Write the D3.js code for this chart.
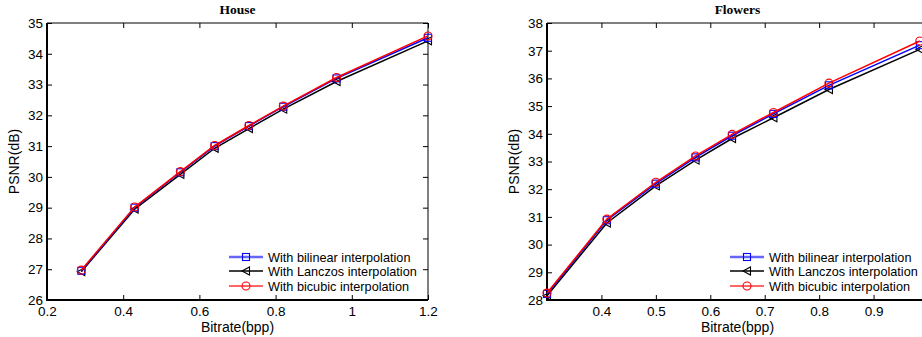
<!DOCTYPE html>
<html>
<head>
<meta charset="utf-8">
<script src="https://cdn.jsdelivr.net/npm/d3@7"></script>
<style>
  body { margin: 0; background: #fff; }
  svg { display: block; }
  .tick text { font-family: "Liberation Sans", Arial, sans-serif; font-size: 13.5px; fill: #000; }
  .tick line { stroke: #000; }
</style>
</head>
<body>
<svg id="chart" width="922" height="337"></svg>
<script>
// ---- data ----
const seriesNames = ['With bilinear interpolation', 'With Lanczos interpolation', 'With bicubic interpolation'];

const houseRate = [0.29, 0.43, 0.55, 0.64, 0.73, 0.82, 0.96, 1.2];
const houseBilinear = [26.95, 29.00, 30.15, 31.00, 31.65, 32.28, 33.20, 34.52];
const houseLanczos = [26.92, 28.95, 30.08, 30.93, 31.57, 32.20, 33.10, 34.42];
const houseBicubic = [26.97, 29.02, 30.17, 31.02, 31.67, 32.30, 33.23, 34.58];
const houseXTicks = [0.2, 0.4, 0.6, 0.8, 1, 1.2];
const houseYTicks = [26, 27, 28, 29, 30, 31, 32, 33, 34, 35];

const flowersRate = [0.3, 0.41, 0.5, 0.573, 0.64, 0.716, 0.818, 0.985];
const flowersBilinear = [28.22, 30.88, 32.20, 33.15, 33.93, 34.72, 35.75, 37.20];
const flowersLanczos = [28.15, 30.78, 32.12, 33.05, 33.83, 34.58, 35.60, 37.05];
const flowersBicubic = [28.25, 30.92, 32.25, 33.20, 33.98, 34.77, 35.83, 37.35];
const flowersXTicks = [0.4, 0.5, 0.6, 0.7, 0.8, 0.9];
const flowersYTicks = [28, 29, 30, 31, 32, 33, 34, 35, 36, 37, 38];

const styles = [
  { color: '#0000ff', marker: 'square', legendOpacity: 0.6, legendWidth: 2.5 },
  { color: '#000000', marker: 'triangle', legendOpacity: 1, legendWidth: 1.3 },
  { color: '#ff0000', marker: 'circle', legendOpacity: 0.8, legendWidth: 1.6 }
];

const svg = d3.select('#chart');
const font = '"Liberation Sans", Arial, sans-serif';

function drawMarker(g, type, cx, cy, color) {
  if (type === 'square') {
    g.append('rect').attr('x', cx - 3.5).attr('y', cy - 3.5).attr('width', 7).attr('height', 7)
      .attr('fill', 'none').attr('stroke', color).attr('stroke-width', 1.1);
  } else if (type === 'triangle') {
    g.append('path').attr('d', `M${cx - 4},${cy} L${cx + 3.5},${cy - 4} L${cx + 3.5},${cy + 4} Z`)
      .attr('fill', 'none').attr('stroke', color).attr('stroke-width', 1.1);
  } else {
    g.append('circle').attr('cx', cx).attr('cy', cy).attr('r', 4)
      .attr('fill', 'none').attr('stroke', color).attr('stroke-width', 1.1);
  }
}

function panel(opts) {
  const { left, top, width, height, xDomain, yDomain, xTicks, yTicks, rate, series, title, legendX } = opts;
  const x = d3.scaleLinear().domain(xDomain).range([left, left + width]);
  const y = d3.scaleLinear().domain(yDomain).range([top + height, top]);
  const g = svg.append('g');

  // axes, ticks pointing inward
  g.append('g').attr('transform', `translate(0,${top + height})`)
    .call(d3.axisBottom(x).tickValues(xTicks).tickSize(-5).tickPadding(6).tickFormat(d3.format('')))
    .call(a => a.select('.domain').remove());
  g.append('g').attr('transform', `translate(${left},0)`)
    .call(d3.axisLeft(y).tickValues(yTicks).tickSize(-5).tickPadding(4).tickFormat(d3.format('d')))
    .call(a => a.select('.domain').remove());
  g.append('g').attr('transform', `translate(0,${top})`)
    .call(d3.axisTop(x).tickValues(xTicks).tickSize(-5).tickFormat(''))
    .call(a => a.select('.domain').remove());
  g.append('g').attr('transform', `translate(${left + width},0)`)
    .call(d3.axisRight(y).tickValues(yTicks).tickSize(-5).tickFormat(''))
    .call(a => a.select('.domain').remove());

  // box
  g.append('line').attr('x1', left).attr('x2', left + width).attr('y1', top).attr('y2', top).attr('stroke', '#000');
  g.append('line').attr('x1', left + width).attr('x2', left + width).attr('y1', top).attr('y2', top + height).attr('stroke', '#000');
  g.append('line').attr('x1', left).attr('x2', left).attr('y1', top).attr('y2', top + height + 1).attr('stroke', '#000').attr('stroke-width', 2);
  g.append('line').attr('x1', left - 1).attr('x2', left + width).attr('y1', top + height).attr('y2', top + height).attr('stroke', '#000').attr('stroke-width', 2.2);

  // lines (drawn in order: lanczos, bilinear, bicubic on top)
  const order = [1, 0, 2];
  order.forEach(i => {
    const vals = series[i];
    const st = styles[i];
    const line = d3.line().x((d, j) => x(rate[j])).y(d => y(d));
    g.append('path').datum(vals).attr('d', line).attr('fill', 'none')
      .attr('stroke', st.color).attr('stroke-width', 1.5);
    vals.forEach((v, j) => drawMarker(g, st.marker, x(rate[j]), y(v), st.color));
  });

  // title and labels
  g.append('text').attr('x', left + width / 2).attr('y', 14).attr('text-anchor', 'middle')
    .attr('font-family', '"Liberation Serif", "Times New Roman", serif').attr('font-weight', 'bold')
    .attr('font-size', 13.5).text(title);
  g.append('text').attr('x', left + width / 2).attr('y', 332).attr('text-anchor', 'middle')
    .attr('font-family', font).attr('font-size', 14).text('Bitrate(bpp)');
  g.append('text').attr('transform', `translate(${left - 28},${top + height / 2}) rotate(-90)`)
    .attr('text-anchor', 'middle').attr('font-family', font).attr('font-size', 14).text('PSNR(dB)');

  // legend
  const rowY = [257, 271, 286];
  seriesNames.forEach((name, i) => {
    const st = styles[i];
    const lg = g.append('g');
    lg.append('line').attr('x1', legendX).attr('x2', legendX + 34).attr('y1', rowY[i]).attr('y2', rowY[i])
      .attr('stroke', st.color).attr('stroke-width', st.legendWidth).attr('stroke-opacity', st.legendOpacity);
    drawMarker(lg, st.marker, legendX + 17, rowY[i], st.color);
    lg.append('text').attr('x', legendX + 39).attr('y', rowY[i] + 4.5)
      .attr('font-family', font).attr('font-size', 12.7).text(name);
  });
}

panel({
  left: 47, top: 23, width: 381, height: 277,
  xDomain: [0.2, 1.2], yDomain: [26, 35],
  xTicks: houseXTicks, yTicks: houseYTicks, rate: houseRate,
  series: [houseBilinear, houseLanczos, houseBicubic],
  title: 'House', legendX: 229
});

panel({
  left: 547, top: 23, width: 381, height: 277,
  xDomain: [0.3, 1.0], yDomain: [28, 38],
  xTicks: flowersXTicks, yTicks: flowersYTicks, rate: flowersRate,
  series: [flowersBilinear, flowersLanczos, flowersBicubic],
  title: 'Flowers', legendX: 730
});
</script>
</body>
</html>
